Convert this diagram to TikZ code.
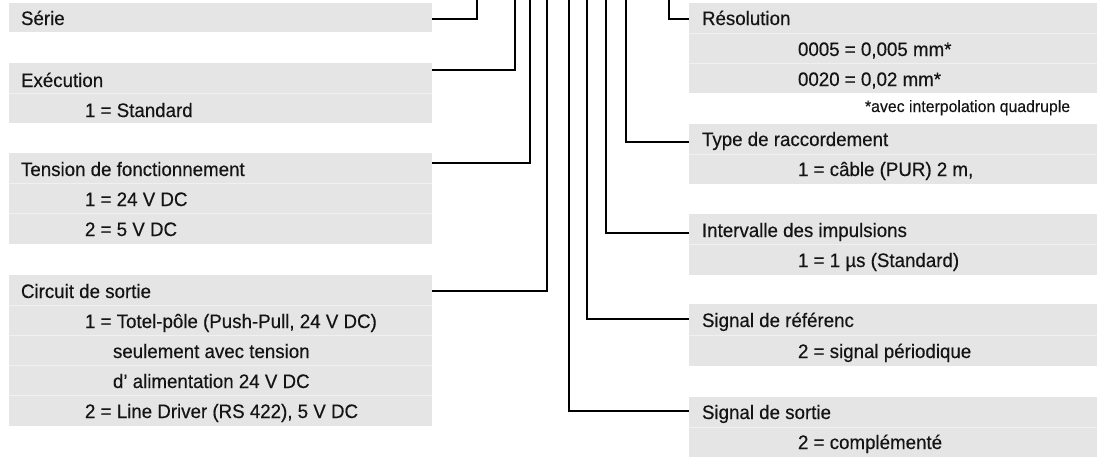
\documentclass[tikz,border=0pt]{standalone}
\usepackage{fontspec}
\setmainfont[FakeStretch=0.96,FakeBold=0.4]{Liberation Sans}
\definecolor{boxfill}{HTML}{E5E5E5}
\definecolor{sepcol}{HTML}{F0F0F0}
\definecolor{txt}{HTML}{141414}
\tikzset{
  box/.style={anchor=north west, fill=boxfill, inner sep=0pt, outer sep=0pt, draw=none},
  lbl/.style={anchor=base west, inner sep=0pt, outer sep=0pt, text=txt, font=\fontsize{19.5}{22}\selectfont},
  note/.style={anchor=base west, inner sep=0pt, outer sep=0pt, text=txt, font=\fontsize{16.5}{19}\selectfont},
  conn/.style={draw=black, line width=2.2pt},
  sepline/.style={draw=sepcol, line width=0.9pt}
}
\begin{document}
\begin{tikzpicture}[x=1pt,y=-1pt]
\useasboundingbox (0,0) rectangle (1098,456);
% ---------------- left boxes ----------------
\node[box, minimum width=423pt, minimum height=29pt] (serie) at (9,3) {};
\node[box, minimum width=423pt, minimum height=60pt] (exec) at (9,63) {};
\node[box, minimum width=423pt, minimum height=91pt] (tens) at (9,153) {};
\node[box, minimum width=423pt, minimum height=151pt] (circ) at (9,275) {};
% ---------------- right boxes ----------------
\node[box, minimum width=408pt, minimum height=90pt] (reso) at (689,3) {};
\node[box, minimum width=408pt, minimum height=60pt] (type) at (689,124) {};
\node[box, minimum width=408pt, minimum height=61pt] (interv) at (689,214) {};
\node[box, minimum width=408pt, minimum height=62pt] (ref) at (689,304) {};
\node[box, minimum width=408pt, minimum height=60pt] (sort) at (689,397) {};
% ---------------- row separators ----------------
\foreach \b/\d in {exec/30, tens/30, tens/60, circ/30, circ/60, circ/90, circ/120,
                   reso/30, reso/60, type/30, interv/30, ref/31, sort/30}{
  \draw[sepline] ([yshift=-\d pt]\b.north west) -- ([yshift=-\d pt]\b.north east);
}
% ---------------- left texts ----------------
\node[lbl] (t-serie) at (21,25) {Série};
\node[lbl] (t-exec) at (21,87) {Exécution};
\node[lbl] (t-exec1) at (85,117) {1 = Standard};
\node[lbl] (t-tens) at (21,176) {Tension de fonctionnement};
\node[lbl] (t-tens1) at (85,206) {1 = 24 V DC};
\node[lbl] (t-tens2) at (85,236) {2 = 5 V DC};
\node[lbl] (t-circ) at (21,298) {Circuit de sortie};
\node[lbl] (t-circ1) at (85,328) {1 = Totel-pôle (Push-Pull, 24 V DC)};
\node[lbl] (t-circ1b) at (113,358) {seulement avec tension};
\node[lbl] (t-circ1c) at (113,388) {d’ alimentation 24 V DC};
\node[lbl] (t-circ2) at (85,418) {2 = Line Driver (RS 422), 5 V DC};
% ---------------- right texts ----------------
\node[lbl] (t-reso) at (702,25) {Résolution};
\node[lbl] (t-reso1) at (798,56) {0005 = 0,005 mm*};
\node[lbl] (t-reso2) at (798,86) {0020 = 0,02 mm*};
\node[note] (t-note) at (865,112) {*avec interpolation quadruple};
\node[lbl] (t-type) at (702,146) {Type de raccordement};
\node[lbl] (t-type1) at (798,176) {1 = câble (PUR) 2 m,};
\node[lbl] (t-interv) at (702,237) {Intervalle des impulsions};
\node[lbl] (t-interv1) at (798,267) {1 = 1 µs (Standard)};
\node[lbl] (t-ref) at (702,327) {Signal de référenc};
\node[lbl] (t-ref1) at (798,358) {2 = signal périodique};
\node[lbl] (t-sort) at (702,419) {Signal de sortie};
\node[lbl] (t-sort1) at (798,449) {2 = complémenté};
% ---------------- connector ends at the top ----------------
\coordinate (c1) at (477,0);
\coordinate (c2) at (515,0);
\coordinate (c3) at (530,0);
\coordinate (c4) at (547,0);
\coordinate (c5) at (569,0);
\coordinate (c6) at (587,0);
\coordinate (c7) at (606,0);
\coordinate (c8) at (626,0);
\coordinate (c9) at (669,0);
% ---------------- connectors ----------------
\draw[conn] ([yshift=-16pt]serie.north east) -| (c1);
\draw[conn] ([yshift=-7pt]exec.north east) -| (c2);
\draw[conn] ([yshift=-10pt]tens.north east) -| (c3);
\draw[conn] ([yshift=-16pt]circ.north east) -| (c4);
\draw[conn] ([yshift=-14pt]sort.north west) -| (c5);
\draw[conn] ([yshift=-15pt]ref.north west) -| (c6);
\draw[conn] ([yshift=-19pt]interv.north west) -| (c7);
\draw[conn] ([yshift=-18pt]type.north west) -| (c8);
\draw[conn] ([yshift=-16pt]reso.north west) -| (c9);
\end{tikzpicture}
\end{document}
